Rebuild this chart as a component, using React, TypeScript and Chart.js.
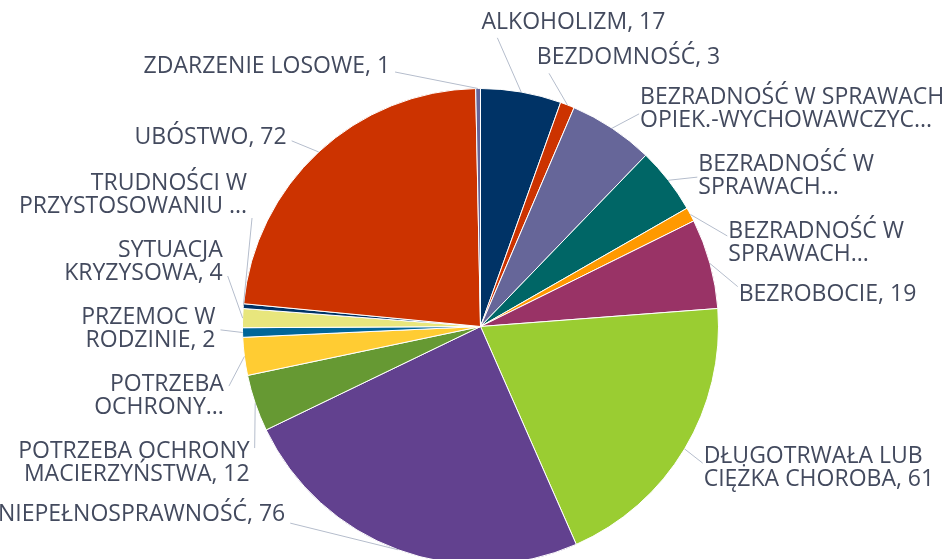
import React, { useEffect, useRef } from 'react';
import { Chart, ArcElement, PieController } from 'chart.js';

Chart.register(ArcElement, PieController);

const categories: string[] = [
  'Alkoholizm',
  'Bezdomność',
  'Bezradność w sprawach opiek.-wychowawczych',
  'Bezradność w sprawach opiek.-wychowawczych – rodziny niepełne',
  'Bezradność w sprawach opiek.-wychowawczych – rodziny wielodzietne',
  'Bezrobocie',
  'Długotrwała lub ciężka choroba',
  'Niepełnosprawność',
  'Potrzeba ochrony macierzyństwa',
  'Potrzeba ochrony wielodzietności',
  'Przemoc w rodzinie',
  'Sytuacja kryzysowa',
  'Trudności w przystosowaniu do życia po zwolnieniu z zakładu karnego',
  'Ubóstwo',
  'Zdarzenie losowe',
];

const values: number[] = [17, 3, 18, 14, 3, 19, 61, 76, 12, 8, 2, 4, 1, 72, 1];

const palette: string[] = [
  '#003366', '#CC3300', '#666699', '#006666', '#FF9900', '#993366',
  '#9ACD32', '#62418F', '#669933', '#FFCC33', '#006699', '#E8E67D',
];

const VIEW_W = 947;
const VIEW_H = 559;
const FONT = '23px "Open Sans"';
const LINE_H = 23;
const SLOT = 31.5;
const PAD = 4;
const TEXT_COLOR = '#434a5e';
const LINE_COLOR = '#b5bdcc';

function fitEllipsis(ctx: CanvasRenderingContext2D, s: string, maxW: number): string {
  if (ctx.measureText(s + '...').width <= maxW) return s + '...';
  const sp = s.lastIndexOf(' ');
  if (sp > 0 && ctx.measureText(s.slice(0, sp + 1) + '...').width <= maxW) {
    return s.slice(0, sp + 1) + '...';
  }
  let t = s;
  while (t.length > 0 && ctx.measureText(t + '...').width > maxW) t = t.slice(0, -1);
  return t + '...';
}

function wrapLabel(ctx: CanvasRenderingContext2D, text: string, maxW: number): string[] {
  const words = text.split(' ');
  const lines: string[] = [];
  let cur = '';
  for (const w of words) {
    const cand = cur ? cur + ' ' + w : w;
    if (!cur || ctx.measureText(cand).width <= maxW) cur = cand;
    else {
      lines.push(cur);
      cur = w;
    }
  }
  if (cur) lines.push(cur);
  const out = lines.slice(0, 2);
  if (lines.length > 2) out[1] = fitEllipsis(ctx, out[1], maxW);
  else if (out[1] && ctx.measureText(out[1]).width > maxW) out[1] = fitEllipsis(ctx, out[1], maxW);
  return out;
}

type Item = {
  i: number; ax: number; ay: number; right: boolean; desired: number;
  text: string; lines: string[]; h: number; center: number;
};

function layoutSide(list: Item[], minY: number, maxY: number) {
  list.sort((a, b) => a.desired - b.desired);
  type C = { items: Item[]; h: number; top: number };
  const place = (c: C) => {
    let off = 0;
    let sum = 0;
    for (const it of c.items) {
      sum += it.desired - (off + it.h / 2);
      off += it.h;
    }
    let top = sum / c.items.length;
    top = Math.max(minY, Math.min(maxY - c.h, top));
    c.top = top;
  };
  const cl: C[] = list.map((it) => ({ items: [it], h: it.h, top: 0 }));
  cl.forEach(place);
  let merged = true;
  while (merged) {
    merged = false;
    for (let k = 0; k < cl.length - 1; k++) {
      if (cl[k].top + cl[k].h > cl[k + 1].top + 0.01) {
        const m: C = { items: [...cl[k].items, ...cl[k + 1].items], h: cl[k].h + cl[k + 1].h, top: 0 };
        place(m);
        cl.splice(k, 2, m);
        merged = true;
        break;
      }
    }
  }
  for (const c of cl) {
    let off = c.top;
    for (const it of c.items) {
      it.center = off + it.h / 2;
      off += it.h;
    }
  }
}

const outLabels = {
  id: 'outLabels',
  afterDatasetsDraw(chart: any) {
    const ctx: CanvasRenderingContext2D = chart.ctx;
    const meta = chart.getDatasetMeta(0);
    const arcs = meta.data;
    if (!arcs.length) return;
    const c0 = arcs[0].getProps(['x', 'y', 'outerRadius'], true);
    const cx = c0.x, cy = c0.y, R = c0.outerRadius;
    const RL = R + 21;
    const RY = R + 37;
    ctx.save();
    ctx.font = FONT;
    const items: Item[] = arcs.map((arc: any, i: number) => {
      const p = arc.getProps(['startAngle', 'endAngle'], true);
      const a = (p.startAngle + p.endAngle) / 2;
      return {
        i,
        ax: cx + Math.cos(a) * R,
        ay: cy + Math.sin(a) * R,
        right: Math.cos(a) >= 0,
        desired: cy + Math.sin(a) * (R + 27) + 5,
        text: `${categories[i]}, ${values[i]}`.toUpperCase(),
        lines: [], h: 0, center: 0,
      };
    });
    const edgeX = (it: Item, y: number) => {
      const dy = (y - cy) / RY;
      const k = Math.sqrt(Math.max(0, 1 - dy * dy));
      return cx + (it.right ? 1 : -1) * RL * k;
    };
    const maxWAt = (it: Item, y: number) => {
      const ex = edgeX(it, y);
      return it.right ? VIEW_W - ex - 3 : ex - 4;
    };
    items.forEach((it) => {
      it.lines = wrapLabel(ctx, it.text, maxWAt(it, it.desired));
      it.h = it.lines.length * SLOT + PAD;
    });
    layoutSide(items.filter((it) => it.right), 4, VIEW_H - 27);
    layoutSide(items.filter((it) => !it.right), 4, VIEW_H - 27);
    items.forEach((it) => {
      const again = wrapLabel(ctx, it.text, maxWAt(it, it.center));
      if (again.length <= it.lines.length) it.lines = again;
    });

    for (const it of items) {
      const n = it.lines.length;
      const T = it.center - (n * LINE_H) / 2;
      const B = it.center + (n * LINE_H) / 2;
      const ex = edgeX(it, it.center);
      const tx = it.right ? ex + 1 : ex - 6;
      const tW = Math.max(...it.lines.map((l) => ctx.measureText(l).width));
      let px: number, py: number;
      const inside = it.right ? it.ax > tx + 5 && it.ax < tx + tW : it.ax < tx - 5 && it.ax > tx - tW;
      if (inside && (it.ay > B + 2 || it.ay < T - 2)) {
        px = tx + 0.4 * (it.ax - tx);
        py = it.ay > B ? B + 4 : T - 4;
      } else {
        px = it.right ? tx - 1 : tx + 5;
        py = Math.max(T, Math.min(B, it.center + 0.25 * (it.ay - it.center)));
      }
      ctx.strokeStyle = LINE_COLOR;
      ctx.lineWidth = 1;
      ctx.beginPath();
      ctx.moveTo(it.ax, it.ay);
      ctx.lineTo(px, py);
      ctx.stroke();

      ctx.fillStyle = TEXT_COLOR;
      ctx.textAlign = it.right ? 'left' : 'right';
      ctx.textBaseline = 'middle';
      it.lines.forEach((l, j) => {
        ctx.fillText(l, tx, T + LINE_H * (j + 0.5));
      });
    }
    ctx.restore();
  },
};

export default function App() {
  const ref = useRef<HTMLCanvasElement | null>(null);
  useEffect(() => {
    if (!ref.current) return;
    const chart = new Chart(ref.current, {
      type: 'pie',
      data: {
        labels: categories,
        datasets: [
          {
            data: values,
            backgroundColor: values.map((_, i) => palette[i % palette.length]),
            borderColor: '#ffffff',
            borderWidth: 1,
          },
        ],
      },
      options: {
        responsive: false,
        animation: false,
        layout: { padding: { top: 88, bottom: 35, left: 242, right: 228 } },
        plugins: { legend: { display: false }, tooltip: { enabled: false } },
      },
      plugins: [outLabels],
    } as any);
    return () => chart.destroy();
  }, []);
  return (
    <div style={{ position: 'fixed', left: 0, top: 0, width: VIEW_W, height: VIEW_H, overflow: 'hidden', background: '#ffffff' }}>
      <canvas ref={ref} width={VIEW_W} height={600} style={{ display: 'block' }} />
    </div>
  );
}
